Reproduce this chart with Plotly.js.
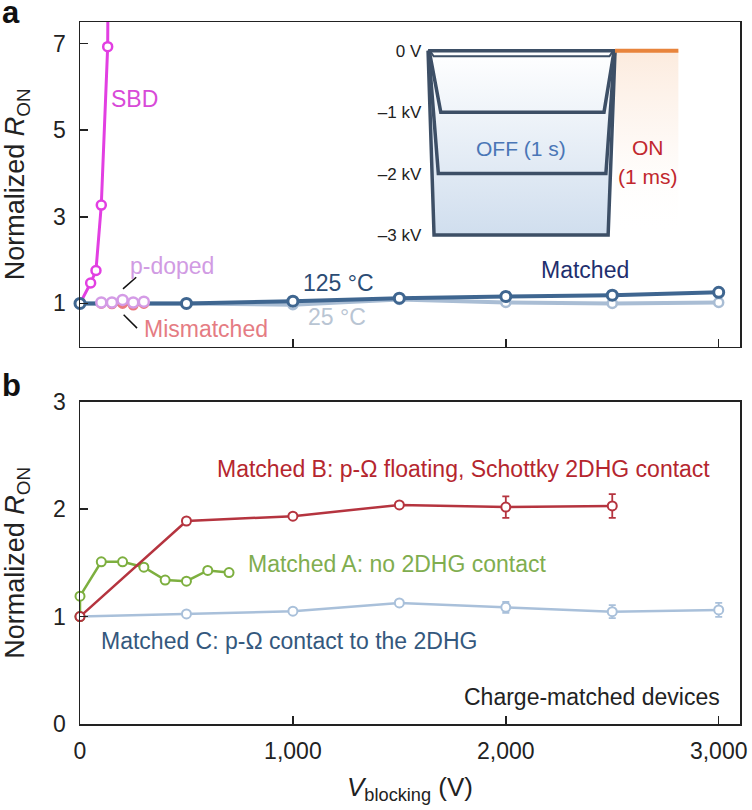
<!DOCTYPE html>
<html>
<head>
<meta charset="utf-8">
<script src="https://cdn.plot.ly/plotly-3.0.1.min.js"></script>
<style>html,body{margin:0;padding:0;background:#fff;}#chart{width:752px;height:810px;}</style>
</head>
<body>
<div id="chart"></div>
<script>
// ---------- Panel a data ----------
const vA_matched = [0, 500, 1000, 1500, 2000, 2500, 3000];
const ron125C = [1.0, 1.0, 1.05, 1.12, 1.16, 1.19, 1.255];
const ron25C = [1.0, 1.0, 0.97, 1.09, 1.02, 1.0, 1.02];
const vSBD = [0, 50, 75, 100, 130, 140];
const ronSBD = [1.0, 1.47, 1.76, 3.27, 6.93, 15];
const vPdoped = [100, 150, 200, 250, 300];
const ronPdoped = [1.02, 1.02, 1.08, 1.02, 1.04];
const vMismatched = [100, 150, 200, 250, 300];
const ronMismatched = [1.0, 0.99, 1.0, 0.96, 1.0];

// ---------- Panel b data ----------
const vB = [0, 500, 1000, 1500, 2000, 2500];
const ronB = [1.0, 1.89, 1.935, 2.04, 2.02, 2.03];
const errB = [0, 0, 0, 0, 0.1, 0.11];
const vMA = [0, 0, 100, 200, 300, 400, 500, 600, 700];
const ronMA = [1.0, 1.19, 1.51, 1.51, 1.46, 1.34, 1.33, 1.43, 1.41];
const vC = [0, 500, 1000, 1500, 2000, 2500, 3000];
const ronC = [1.0, 1.025, 1.05, 1.127, 1.086, 1.046, 1.062];
const errC = [0, 0, 0, 0, 0.05, 0.06, 0.065];

// ---------- Inset (stress waveform schematic) ----------
const insetTime3k = [0, 0.032, 0.963, 1.0];
const insetV3k = [0, -3, -3, 0];
const insetTime2k = [0.003, 0.055, 0.951, 0.998];
const insetV2k = [0, -2, -2, 0];
const insetTime1k = [0.006, 0.068, 0.941, 0.995];
const insetV1k = [0, -1, -1, 0];
const insetTimeSmall = [0.01, 0.03, 0.97, 0.99];
const insetVSmall = [0, -0.09, -0.09, 0];
const insetTopTime = [0, 1.0];
const insetTopV = [0, 0];
const insetOnTime = [1.0, 1.34];
const insetOnV = [0, 0];
const insetOnBoxTime = [1.0, 1.34, 1.34, 1.0];
const insetOnBoxV = [0, 0, -3, -3];
const insetTickVals = [0, -1, -2, -3];
const insetTickText = ['0 V', '–1 kV', '–2 kV', '–3 kV'];

const yTicksA = [1, 3, 5, 7];
const yTicksB = [0, 1, 2, 3];
const xTicks = [0, 1000, 2000, 3000];
const xTickText = ['0', '1,000', '2,000', '3,000'];

const FONT = 'Liberation Sans, Arial, Helvetica, sans-serif';
const INK = '#222222';
const waveColor = '#3d4f66';

const traces = [
  // Panel a
  {x: vA_matched, y: ron25C, xaxis: 'x2', yaxis: 'y2', mode: 'lines+markers', cliponaxis: false,
   line: {color: '#a9bdd4', width: 4}, marker: {symbol: 'circle', size: 9, color: '#ffffff', line: {color: '#a9bdd4', width: 2.5}}},
  {x: vSBD, y: ronSBD, xaxis: 'x2', yaxis: 'y2', mode: 'lines+markers',
   line: {color: '#e23fe2', width: 3}, marker: {symbol: 'circle', size: 9, color: '#ffffff', line: {color: '#e23fe2', width: 2.5}}},
  {x: vA_matched, y: ron125C, xaxis: 'x2', yaxis: 'y2', mode: 'lines+markers', cliponaxis: false,
   line: {color: '#3f6690', width: 4}, marker: {symbol: 'circle', size: 10, color: '#ffffff', line: {color: '#3f6690', width: 3}}},
  {x: vMismatched, y: ronMismatched, xaxis: 'x2', yaxis: 'y2', mode: 'lines+markers',
   line: {color: '#ea7a80', width: 2}, marker: {symbol: 'circle', size: 9, color: '#ea7a80', line: {color: '#ea7a80', width: 2}}},
  {x: vPdoped, y: ronPdoped, xaxis: 'x2', yaxis: 'y2', mode: 'lines+markers',
   line: {color: '#d49be6', width: 2}, marker: {symbol: 'circle', size: 10, color: '#ffffff', line: {color: '#d49be6', width: 2.5}}},

  // Inset
  {x: insetOnBoxTime, y: insetOnBoxV, xaxis: 'x3', yaxis: 'y3', mode: 'lines', fill: 'toself',
   line: {width: 0, color: 'rgba(0,0,0,0)'},
   fillgradient: {type: 'vertical', colorscale: [[0, 'rgba(255,255,255,0)'], [0.55, 'rgba(252,236,224,0.4)'], [1, 'rgba(250,222,200,0.6)']]},
   hoverinfo: 'skip'},
  {x: insetTime3k, y: insetV3k, xaxis: 'x3', yaxis: 'y3', mode: 'lines', fill: 'toself',
   line: {color: waveColor, width: 3.5},
   fillgradient: {type: 'vertical', colorscale: [[0, '#d0deee'], [1, '#ffffff']]}},
  {x: insetTime2k, y: insetV2k, xaxis: 'x3', yaxis: 'y3', mode: 'lines', line: {color: waveColor, width: 3.5}},
  {x: insetTime1k, y: insetV1k, xaxis: 'x3', yaxis: 'y3', mode: 'lines', line: {color: waveColor, width: 3.5}},
  {x: insetTimeSmall, y: insetVSmall, xaxis: 'x3', yaxis: 'y3', mode: 'lines', line: {color: waveColor, width: 2}},
  {x: insetTopTime, y: insetTopV, xaxis: 'x3', yaxis: 'y3', mode: 'lines', line: {color: waveColor, width: 3.5}},
  {x: insetOnTime, y: insetOnV, xaxis: 'x3', yaxis: 'y3', mode: 'lines', line: {color: '#e8843c', width: 4}},

  // Panel b
  {x: vC, y: ronC, xaxis: 'x', yaxis: 'y', mode: 'lines+markers', cliponaxis: false,
   error_y: {type: 'data', array: errC, visible: true, color: '#a9c0da', thickness: 1.8, width: 3.5},
   line: {color: '#a9c0da', width: 2.5}, marker: {symbol: 'circle', size: 9, color: '#ffffff', line: {color: '#a9c0da', width: 2}}},
  {x: vMA, y: ronMA, xaxis: 'x', yaxis: 'y', mode: 'lines+markers', cliponaxis: false,
   line: {color: '#7daf3f', width: 2.5}, marker: {symbol: 'circle', size: 9, color: '#ffffff', line: {color: '#7daf3f', width: 2}}},
  {x: vB, y: ronB, xaxis: 'x', yaxis: 'y', mode: 'lines+markers', cliponaxis: false,
   error_y: {type: 'data', array: errB, visible: true, color: '#b5343f', thickness: 1.8, width: 3.5},
   line: {color: '#b5343f', width: 2.5}, marker: {symbol: 'circle', size: 9, color: '#ffffff', line: {color: '#b5343f', width: 2}}}
];

const axisCommon = {
  showline: true, mirror: true, linecolor: INK, linewidth: 1.5,
  ticks: 'inside', ticklen: 8, tickwidth: 1.5, tickcolor: INK,
  showgrid: false, zeroline: false,
  tickfont: {family: FONT, size: 23, color: INK}
};

function ann(text, x, y, color, opts) {
  return Object.assign({text: text, x: x, y: y, showarrow: false,
    font: {family: FONT, size: 23, color: color}}, opts || {});
}

const annotations = [
  // panel a labels
  ann('SBD', 256, 5.72, '#d84ad8', {xref: 'x2', yref: 'y2'}),
  ann('p-doped', 434, 1.875, '#d19be3', {xref: 'x2', yref: 'y2'}),
  ann('Mismatched', 592, 0.406, '#e57c83', {xref: 'x2', yref: 'y2'}),
  ann('125 °C', 1214, 1.464, '#2b4c74', {xref: 'x2', yref: 'y2'}),
  ann('25 °C', 1207, 0.675, '#b9c5d3', {xref: 'x2', yref: 'y2'}),
  ann('Matched', 2372, 1.76, '#1f2f6e', {xref: 'x2', yref: 'y2'}),
  // inset
  ann('+3 V', 1.37, 0, INK, {xref: 'x3', yref: 'y3', xanchor: 'left', font: {family: FONT, size: 17, color: INK}}),
  ann('OFF (1 s)', 0.497, -1.6, '#4a76b6', {xref: 'x3', yref: 'y3', font: {family: FONT, size: 21, color: '#4a76b6'}}),
  ann('ON', 1.176, -1.58, '#c1272d', {xref: 'x3', yref: 'y3', font: {family: FONT, size: 21, color: '#c1272d'}}),
  ann('(1 ms)', 1.176, -2.04, '#c1272d', {xref: 'x3', yref: 'y3', font: {family: FONT, size: 21, color: '#c1272d'}}),
  // panel b labels
  ann('Matched B: p-Ω floating, Schottky 2DHG contact', 635, 2.37, '#b5262e', {xref: 'x', yref: 'y', xanchor: 'left'}),
  ann('Matched A: no 2DHG contact', 781, 1.49, '#80ad4f', {xref: 'x', yref: 'y', xanchor: 'left'}),
  ann('Matched C: p-Ω contact to the 2DHG', 87, 0.771, '#34587d', {xref: 'x', yref: 'y', xanchor: 'left'}),
  ann('Charge-matched devices', 3015, 0.25, INK, {xref: 'x', yref: 'y', xanchor: 'right'}),
  // panel letters
  {text: '<b>a</b>', xref: 'paper', yref: 'paper', x: -0.1212, y: 1.013, xanchor: 'left', yanchor: 'middle', showarrow: false,
   font: {family: FONT, size: 31, color: '#111'}},
  {text: '<b>b</b>', xref: 'paper', yref: 'paper', x: -0.1212, y: 0.4815, xanchor: 'left', yanchor: 'middle', showarrow: false,
   font: {family: FONT, size: 31, color: '#111'}}
];

const shapes = [
  {type: 'line', xref: 'x2', yref: 'y2', x0: 202, y0: 1.334, x1: 264, y1: 1.603, line: {color: '#111', width: 1.5}},
  {type: 'line', xref: 'x2', yref: 'y2', x0: 205, y0: 0.738, x1: 268, y1: 0.429, line: {color: '#111', width: 1.5}}
];

const layout = {
  width: 752, height: 810,
  margin: {l: 80, r: 12, t: 22, b: 86},
  paper_bgcolor: '#ffffff', plot_bgcolor: 'rgba(0,0,0,0)',
  showlegend: false,
  font: {family: FONT, color: INK},
  xaxis: Object.assign({}, axisCommon, {domain: [0, 1], anchor: 'y', range: [0, 3100],
    tickvals: xTicks, ticktext: xTickText, ticklabelstandoff: 6,
    title: {text: '<i>V</i><sub>blocking</sub> (V)', font: {family: FONT, size: 26, color: INK}, standoff: 14}}),
  yaxis: Object.assign({}, axisCommon, {domain: [0, 0.459], anchor: 'x', range: [0, 3],
    tickvals: yTicksB, ticklabelstandoff: 8,
    title: {text: 'Normalized <i>R</i><sub>ON</sub>', font: {family: FONT, size: 27, color: INK}, standoff: 22}}),
  xaxis2: Object.assign({}, axisCommon, {domain: [0, 1], anchor: 'y2', range: [0, 3100],
    tickvals: xTicks, showticklabels: false}),
  yaxis2: Object.assign({}, axisCommon, {domain: [0.5375, 1], anchor: 'x2', range: [0, 7.5],
    tickvals: yTicksA, ticklabelstandoff: 8,
    title: {text: 'Normalized <i>R</i><sub>ON</sub>', font: {family: FONT, size: 27, color: INK}, standoff: 22}}),
  xaxis3: {domain: [0.5217, 0.907], anchor: 'y3', range: [-0.02, 1.34], visible: false, fixedrange: true},
  yaxis3: {domain: [0.6922, 0.9635], anchor: 'x3', range: [-3.05, 0.05], showline: false, showgrid: false,
    zeroline: false, ticks: '', tickvals: insetTickVals, ticktext: insetTickText, ticklabelstandoff: 2,
    tickfont: {family: FONT, size: 17, color: INK}, fixedrange: true},
  annotations: annotations,
  shapes: shapes
};

Plotly.newPlot('chart', traces, layout, {displayModeBar: false, staticPlot: true});
</script>
</body>
</html>
